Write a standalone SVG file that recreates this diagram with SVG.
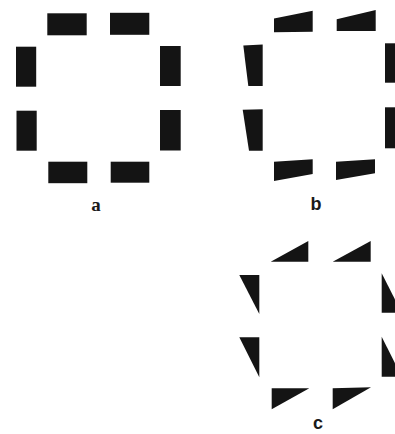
<svg xmlns="http://www.w3.org/2000/svg" width="395" height="434" viewBox="0 0 395 434">
  <style>
    .blk { fill: #141414; }
    .lbl-serif { font-family: "Liberation Serif", "DejaVu Serif", serif; font-weight: bold; font-size: 19px; fill: #1a1a1a; }
    .lbl-sans { font-family: "Liberation Sans", "DejaVu Sans", sans-serif; font-weight: bold; font-size: 18px; fill: #1a1a1a; }
  </style>
  <rect x="0" y="0" width="395" height="434" fill="#ffffff"/>

  <g id="panel-a">
    <rect class="blk" x="47.3" y="13.3" width="39.4" height="22"/>
    <rect class="blk" x="110" y="12.8" width="39.3" height="22"/>
    <rect class="blk" x="16" y="46.7" width="20.2" height="40"/>
    <rect class="blk" x="160" y="46" width="20.7" height="40"/>
    <rect class="blk" x="16.5" y="110.7" width="20.2" height="40"/>
    <rect class="blk" x="160" y="110" width="20.7" height="40.5"/>
    <rect class="blk" x="48.3" y="161.7" width="39" height="21.5"/>
    <rect class="blk" x="110.7" y="161.7" width="38.6" height="21"/>
    <text class="lbl-serif" x="96" y="211" text-anchor="middle">a</text>
  </g>

  <g id="panel-b">
    <polygon class="blk" points="274,18.5 312.7,10.7 312.7,31.7 274,32.3"/>
    <polygon class="blk" points="336.7,19.3 375.7,10 375.7,31 336.7,31"/>
    <polygon class="blk" points="243.3,45.5 262.7,44.5 262.7,86 248.3,86"/>
    <polygon class="blk" points="242.7,109.8 262.7,109.3 262.7,150.7 249,150.7"/>
    <polygon class="blk" points="385,43.3 400,43.3 400,82.7 385,82.7"/>
    <polygon class="blk" points="385,107.3 400,107.3 400,148.3 385,148.3"/>
    <polygon class="blk" points="274,161.7 312.7,159.3 312.7,174 274,181"/>
    <polygon class="blk" points="336,161.7 375,159.3 375,173.3 336,180"/>
    <text class="lbl-sans" x="316" y="210" text-anchor="middle">b</text>
  </g>

  <g id="panel-c">
    <polygon class="blk" points="270.7,261.7 308.3,241 308.3,261.7"/>
    <polygon class="blk" points="332.7,261.7 370.7,241 370.7,261.7"/>
    <polygon class="blk" points="239.3,275 259.3,275 259.3,314"/>
    <polygon class="blk" points="239.3,337.3 259.3,337.3 259.3,377.3"/>
    <polygon class="blk" points="381.7,273.3 381.7,312.7 401.7,312.7"/>
    <polygon class="blk" points="381.7,336.7 381.7,376.7 401.7,376.7"/>
    <polygon class="blk" points="271.7,388.3 309.3,388.3 271.7,409.3"/>
    <polygon class="blk" points="332.7,388.3 371,387.3 332.7,409.3"/>
    <text class="lbl-sans" x="318" y="429" text-anchor="middle">c</text>
  </g>
</svg>
